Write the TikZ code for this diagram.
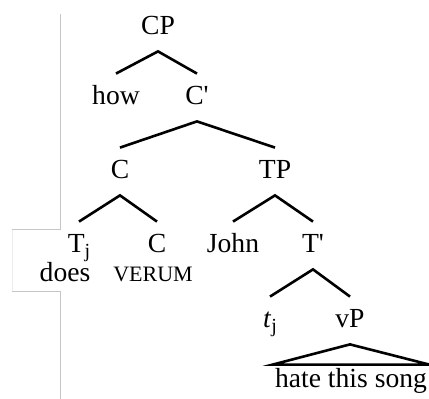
\documentclass[tikz,border=0pt]{standalone}
\usepackage{fontspec}
\setmainfont{Liberation Serif}
\usetikzlibrary{positioning}
\tikzset{
  cat/.style={anchor=base, inner sep=0pt, text height=15.5pt, text depth=8pt, font=\fontsize{13.8}{16}\selectfont},
  gloss/.style={anchor=base, inner sep=0pt, font=\fontsize{13.8}{16}\selectfont},
  feat/.style={anchor=base, inner sep=0pt, font=\fontsize{11}{13}\selectfont},
  roof/.style={anchor=base, inner xsep=1pt, inner ysep=0pt, text height=11.5pt, font=\fontsize{13.8}{16}\selectfont},
  branch/.style={line width=1.3pt},
  margin/.style={draw=gray!45, line width=0.5pt}
}
\newcommand{\sub}[1]{\raisebox{-0.35ex}{\fontsize{10}{12}\selectfont #1}}
\begin{document}
\begin{tikzpicture}[x=0.5pt, y=-0.5pt]
\useasboundingbox (0,0) rectangle (429,399);
% page margin rules
\draw[margin] (60,14) -- (60,230) -- (12,230);
\draw[margin, draw=gray!15] (12,230) -- (12,292);
\draw[margin] (12,292) -- (60,292) -- (60,399);
% tree
\node[cat] (cp) at (158,35) {CP};
\node[cat] (how) at (116,105) {how};
\node[cat] (cbar) at (197,105) {C\textquotesingle};
\node[cat] (c) at (120,179) {C};
\node[cat] (tp) at (275,179) {TP};
\node[cat] (tj) at (79,253) {T\sub{j}};
\node[cat] (cverum) at (157,253) {C};
\node[cat] (john) at (233,253) {John};
\node[cat] (tbar) at (313,253) {T\textquotesingle};
\node[gloss] (does) at (65,282) {does};
\node[feat] (verum) at (153,282) {VERUM};
\node[cat] (trace) at (270,328) {\textit{t}\sub{j}};
\node[cat] (vp) at (350,328) {vP};
\node[roof] (hate) at (351,388) {hate this song};
\draw[branch] (how.north) -- (cp.south) -- (cbar.north);
\draw[branch] (c.north) -- (cbar.south) -- (tp.north);
\draw[branch] (tj.north) -- (c.south) -- (cverum.north);
\draw[branch] (john.north) -- (tp.south) -- (tbar.north);
\draw[branch] (trace.north) -- (tbar.south) -- (vp.north);
\draw[branch] (vp.south) -- (hate.north west) -- (hate.north east) -- cycle;
\end{tikzpicture}
\end{document}
